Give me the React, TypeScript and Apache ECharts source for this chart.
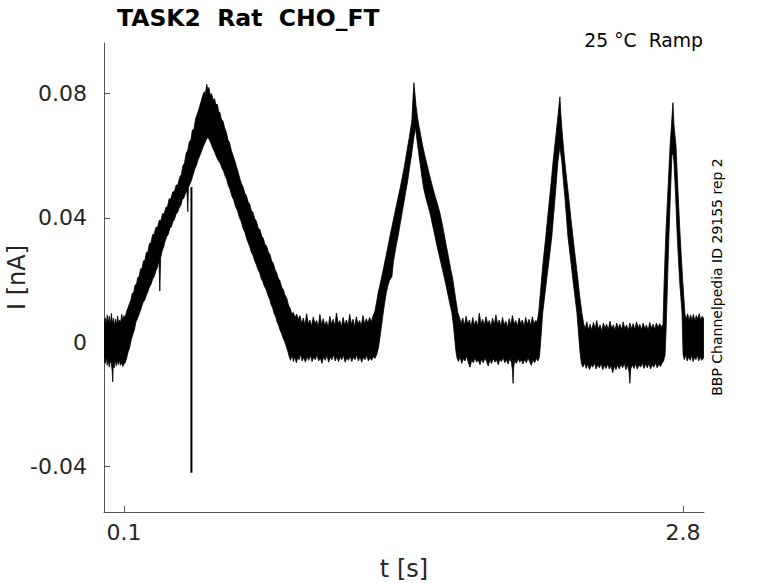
import React, { useEffect, useRef } from "react";
import * as echarts from "echarts";

const titleText = "TASK2  Rat  CHO_FT";
const conditionText = "25 °C  Ramp";
const sourceText = "BBP Channelpedia ID 29155 rep 2";
const xAxisName = "t [s]";
const yAxisName = "I [nA]";

const xTicks = [0.1, 2.8];
const xTickLabels = ["0.1", "2.8"];
const yTicks = [-0.04, 0, 0.04, 0.08];
const yTickLabels = ["-0.04", "0", "0.04", "0.08"];

const xRange = [0.0034, 2.901];
const yRange = [-0.0546, 0.0963];

// upper edge of the noisy current trace [t (s), I (nA)]
const upperEnvelope: [number, number][] = [
  [0.0040, 0.0058], [0.0090, 0.0079], [0.0140, 0.0055], [0.0190, 0.0088], [0.0240, 0.0062], [0.0290, 0.0084], [0.0340, 0.0056], [0.0390, 0.0093], [0.0440, 0.0060], [0.0490, 0.0078], [0.0540, 0.0052], [0.0590, 0.0074], [0.0640, 0.0058], [0.0690, 0.0085], [0.0740, 0.0060], [0.0790, 0.0072], [0.0840, 0.0064], [0.0890, 0.0090], [0.0940, 0.0070], [0.1000, 0.0086],
  [0.1060, 0.0082], [0.1130, 0.0100], [0.1200, 0.0112], [0.1270, 0.0126], [0.1340, 0.0138], [0.1400, 0.0158], [0.1470, 0.0160], [0.1530, 0.0184], [0.1600, 0.0186], [0.1660, 0.0208], [0.1730, 0.0212], [0.1800, 0.0236], [0.1870, 0.0238], [0.1940, 0.0262], [0.2010, 0.0264], [0.2080, 0.0290], [0.2150, 0.0290], [0.2230, 0.0318], [0.2300, 0.0320], [0.2380, 0.0346], [0.2460, 0.0348], [0.2540, 0.0370], [0.2620, 0.0370], [0.2700, 0.0392], [0.2780, 0.0392], [0.2860, 0.0414], [0.2940, 0.0414], [0.3020, 0.0434], [0.3100, 0.0436], [0.3180, 0.0462], [0.3260, 0.0460], [0.3350, 0.0484], [0.3430, 0.0484], [0.3520, 0.0506], [0.3600, 0.0506], [0.3690, 0.0532], [0.3770, 0.0540], [0.3850, 0.0570], [0.3920, 0.0576], [0.4000, 0.0608], [0.4080, 0.0618], [0.4150, 0.0644], [0.4230, 0.0652], [0.4300, 0.0682], [0.4380, 0.0688], [0.4460, 0.0720], [0.4560, 0.0738], [0.4640, 0.0756], [0.4720, 0.0774], [0.4800, 0.0794], [0.4870, 0.0806], [0.4930, 0.0800], [0.4995, 0.0830], [0.5050, 0.0812], [0.5100, 0.0820],
  [0.5160, 0.0796], [0.5230, 0.0800], [0.5300, 0.0780], [0.5370, 0.0784], [0.5440, 0.0764], [0.5510, 0.0766], [0.5570, 0.0742], [0.5630, 0.0740], [0.5700, 0.0718], [0.5780, 0.0712], [0.5860, 0.0690], [0.5940, 0.0676], [0.6020, 0.0652], [0.6100, 0.0642], [0.6180, 0.0618], [0.6270, 0.0600], [0.6350, 0.0584], [0.6430, 0.0566], [0.6510, 0.0548], [0.6590, 0.0528], [0.6670, 0.0510], [0.6750, 0.0500], [0.6830, 0.0480], [0.6910, 0.0472], [0.6990, 0.0452], [0.7070, 0.0444], [0.7150, 0.0424], [0.7230, 0.0418], [0.7310, 0.0398], [0.7390, 0.0390], [0.7480, 0.0368], [0.7570, 0.0362], [0.7650, 0.0342], [0.7730, 0.0334], [0.7810, 0.0314], [0.7890, 0.0310], [0.7970, 0.0290], [0.8050, 0.0282], [0.8130, 0.0262], [0.8210, 0.0254], [0.8290, 0.0234], [0.8370, 0.0224], [0.8450, 0.0206], [0.8530, 0.0198], [0.8610, 0.0178], [0.8690, 0.0170], [0.8770, 0.0152], [0.8860, 0.0142], [0.8940, 0.0120], [0.9020, 0.0110], [0.9100, 0.0092], [0.9180, 0.0096], [0.9260, 0.0080], [0.9340, 0.0090], [0.9420, 0.0074],
  [0.9500, 0.0086], [0.9580, 0.0060], [0.9660, 0.0078], [0.9740, 0.0055], [0.9820, 0.0092], [0.9900, 0.0058], [0.9980, 0.0072], [1.0060, 0.0052], [1.0140, 0.0082], [1.0220, 0.0060], [1.0300, 0.0070], [1.0380, 0.0050], [1.0460, 0.0090], [1.0540, 0.0056], [1.0620, 0.0076], [1.0700, 0.0054], [1.0780, 0.0068], [1.0860, 0.0048], [1.0940, 0.0084], [1.1020, 0.0058], [1.1100, 0.0074], [1.1180, 0.0052], [1.1260, 0.0094], [1.1340, 0.0060], [1.1420, 0.0070], [1.1500, 0.0050], [1.1580, 0.0080], [1.1660, 0.0056], [1.1740, 0.0072], [1.1820, 0.0054], [1.1900, 0.0090], [1.1980, 0.0058], [1.2060, 0.0074], [1.2140, 0.0050], [1.2220, 0.0082], [1.2300, 0.0060], [1.2380, 0.0070], [1.2460, 0.0052], [1.2540, 0.0086], [1.2620, 0.0058], [1.2700, 0.0076], [1.2780, 0.0062], [1.2860, 0.0080], [1.2940, 0.0066], [1.3020, 0.0084],
  [1.3110, 0.0098], [1.3200, 0.0130], [1.3280, 0.0162], [1.3360, 0.0184], [1.3450, 0.0212], [1.3550, 0.0244], [1.3650, 0.0276], [1.3740, 0.0306], [1.3840, 0.0340], [1.3940, 0.0372], [1.4040, 0.0404], [1.4130, 0.0432], [1.4230, 0.0464], [1.4330, 0.0494], [1.4420, 0.0524], [1.4540, 0.0566], [1.4660, 0.0614], [1.4780, 0.0660], [1.4900, 0.0712], [1.4960, 0.0790], [1.5000, 0.0835], [1.5050, 0.0800], [1.5100, 0.0762], [1.5180, 0.0722], [1.5250, 0.0694], [1.5340, 0.0662], [1.5430, 0.0630], [1.5530, 0.0600], [1.5640, 0.0570], [1.5740, 0.0542], [1.5840, 0.0516], [1.5940, 0.0490], [1.6040, 0.0466], [1.6140, 0.0444], [1.6250, 0.0418], [1.6350, 0.0386], [1.6450, 0.0352], [1.6560, 0.0312], [1.6660, 0.0278], [1.6770, 0.0238], [1.6880, 0.0202], [1.6960, 0.0166], [1.7040, 0.0130], [1.7120, 0.0096],
  [1.7200, 0.0080], [1.7280, 0.0060], [1.7360, 0.0078], [1.7440, 0.0054], [1.7520, 0.0084], [1.7600, 0.0058], [1.7680, 0.0072], [1.7760, 0.0050], [1.7840, 0.0080], [1.7920, 0.0056], [1.8000, 0.0070], [1.8080, 0.0052], [1.8160, 0.0094], [1.8240, 0.0058], [1.8320, 0.0074], [1.8400, 0.0054], [1.8480, 0.0082], [1.8560, 0.0060], [1.8640, 0.0070], [1.8720, 0.0050], [1.8800, 0.0078], [1.8880, 0.0056], [1.8960, 0.0088], [1.9040, 0.0058], [1.9120, 0.0072], [1.9200, 0.0052], [1.9280, 0.0080], [1.9360, 0.0056], [1.9440, 0.0068], [1.9520, 0.0048], [1.9600, 0.0076], [1.9680, 0.0056], [1.9760, 0.0086], [1.9840, 0.0058], [1.9920, 0.0070], [2.0000, 0.0052], [2.0080, 0.0078], [2.0160, 0.0060], [2.0240, 0.0072], [2.0320, 0.0050], [2.0400, 0.0080], [2.0480, 0.0058], [2.0560, 0.0074], [2.0640, 0.0054], [2.0720, 0.0082], [2.0800, 0.0060], [2.0880, 0.0070], [2.0960, 0.0066],
  [2.1030, 0.0098], [2.1110, 0.0160], [2.1200, 0.0230], [2.1290, 0.0290], [2.1370, 0.0340], [2.1460, 0.0402], [2.1550, 0.0462], [2.1640, 0.0522], [2.1720, 0.0580], [2.1800, 0.0630], [2.1880, 0.0680], [2.1970, 0.0736], [2.2050, 0.0790], [2.2100, 0.0730], [2.2160, 0.0676], [2.2230, 0.0622], [2.2290, 0.0580], [2.2390, 0.0518], [2.2490, 0.0458], [2.2580, 0.0400], [2.2680, 0.0340], [2.2790, 0.0276], [2.2900, 0.0214], [2.3000, 0.0152], [2.3110, 0.0096],
  [2.3190, 0.0062], [2.3270, 0.0044], [2.3350, 0.0066], [2.3430, 0.0040], [2.3510, 0.0058], [2.3590, 0.0038], [2.3670, 0.0064], [2.3750, 0.0044], [2.3830, 0.0070], [2.3910, 0.0042], [2.3990, 0.0056], [2.4070, 0.0036], [2.4150, 0.0062], [2.4230, 0.0046], [2.4310, 0.0058], [2.4390, 0.0040], [2.4470, 0.0068], [2.4550, 0.0044], [2.4630, 0.0056], [2.4710, 0.0038], [2.4790, 0.0062], [2.4870, 0.0046], [2.4950, 0.0058], [2.5030, 0.0040], [2.5110, 0.0066], [2.5190, 0.0042], [2.5270, 0.0056], [2.5350, 0.0038], [2.5430, 0.0062], [2.5510, 0.0044], [2.5590, 0.0060], [2.5670, 0.0040], [2.5750, 0.0066], [2.5830, 0.0046], [2.5910, 0.0058], [2.5990, 0.0040], [2.6070, 0.0062], [2.6150, 0.0044], [2.6230, 0.0056], [2.6310, 0.0038], [2.6390, 0.0064], [2.6470, 0.0046], [2.6550, 0.0058], [2.6630, 0.0042], [2.6710, 0.0062], [2.6790, 0.0048], [2.6870, 0.0060], [2.6950, 0.0050], [2.7030, 0.0058],
  [2.7080, 0.0180], [2.7130, 0.0280], [2.7170, 0.0352], [2.7270, 0.0492], [2.7370, 0.0630], [2.7440, 0.0700], [2.7510, 0.0771], [2.7560, 0.0700], [2.7610, 0.0664], [2.7660, 0.0630], [2.7750, 0.0490], [2.7850, 0.0352], [2.7970, 0.0210], [2.8090, 0.0090],
  [2.8150, 0.0074], [2.8220, 0.0092], [2.8290, 0.0070], [2.8360, 0.0088], [2.8430, 0.0072], [2.8500, 0.0090], [2.8570, 0.0068], [2.8640, 0.0086], [2.8710, 0.0074], [2.8780, 0.0092], [2.8850, 0.0070], [2.8920, 0.0084], [2.9000, 0.0076],
];

// lower edge of the noisy current trace [t (s), I (nA)]
const lowerEnvelope: [number, number][] = [
  [0.0040, -0.0050], [0.0090, -0.0068], [0.0140, -0.0046], [0.0190, -0.0074], [0.0240, -0.0054], [0.0290, -0.0080], [0.0340, -0.0058], [0.0390, -0.0070], [0.0430, -0.0092], [0.0455, -0.0127], [0.0480, -0.0074], [0.0530, -0.0082], [0.0580, -0.0056], [0.0630, -0.0076], [0.0680, -0.0060], [0.0730, -0.0072], [0.0780, -0.0058], [0.0830, -0.0074], [0.0880, -0.0064], [0.0940, -0.0078], [0.1000, -0.0070], [0.1060, -0.0066],
  [0.1130, -0.0050], [0.1200, -0.0030], [0.1270, -0.0018], [0.1340, 0.0006], [0.1420, 0.0024], [0.1500, 0.0040], [0.1580, 0.0066], [0.1660, 0.0078], [0.1760, 0.0096], [0.1840, 0.0112], [0.1920, 0.0128], [0.2000, 0.0136], [0.2070, 0.0150], [0.2150, 0.0162], [0.2230, 0.0178], [0.2300, 0.0186], [0.2380, 0.0202], [0.2460, 0.0212], [0.2540, 0.0230], [0.2620, 0.0242], [0.2690, 0.0264], [0.2730, 0.0165], [0.2770, 0.0272], [0.2840, 0.0294], [0.2910, 0.0306], [0.2990, 0.0326], [0.3060, 0.0340], [0.3140, 0.0348], [0.3210, 0.0366], [0.3290, 0.0372], [0.3360, 0.0388], [0.3440, 0.0396], [0.3510, 0.0412], [0.3590, 0.0418], [0.3660, 0.0432], [0.3740, 0.0440], [0.3810, 0.0458], [0.3890, 0.0464], [0.3960, 0.0478], [0.4040, 0.0488], [0.4080, 0.0420], [0.4110, 0.0498], [0.4190, 0.0510], [0.4270, 0.0524], [0.4340, 0.0540], [0.4420, 0.0558], [0.4500, 0.0570], [0.4580, 0.0588], [0.4660, 0.0600], [0.4750, 0.0616], [0.4830, 0.0630], [0.4910, 0.0642], [0.4990, 0.0654], [0.5050, 0.0660],
  [0.5120, 0.0652], [0.5200, 0.0640], [0.5290, 0.0624], [0.5380, 0.0612], [0.5470, 0.0596], [0.5560, 0.0584], [0.5650, 0.0576], [0.5730, 0.0560], [0.5810, 0.0550], [0.5890, 0.0534], [0.5960, 0.0524], [0.6040, 0.0504], [0.6130, 0.0490], [0.6210, 0.0470], [0.6300, 0.0458], [0.6390, 0.0436], [0.6480, 0.0424], [0.6570, 0.0402], [0.6660, 0.0388], [0.6750, 0.0366], [0.6840, 0.0354], [0.6930, 0.0332], [0.7000, 0.0320], [0.7070, 0.0308], [0.7150, 0.0290], [0.7230, 0.0280], [0.7310, 0.0262], [0.7390, 0.0250], [0.7470, 0.0234], [0.7550, 0.0224], [0.7620, 0.0206], [0.7700, 0.0196], [0.7780, 0.0180], [0.7860, 0.0170], [0.7950, 0.0152], [0.8040, 0.0138], [0.8110, 0.0120], [0.8180, 0.0110], [0.8250, 0.0092], [0.8320, 0.0084], [0.8390, 0.0066], [0.8460, 0.0056], [0.8530, 0.0040], [0.8600, 0.0030], [0.8680, 0.0014], [0.8750, 0.0004], [0.8830, -0.0012], [0.8900, -0.0026], [0.8970, -0.0044],
  [0.9040, -0.0058], [0.9110, -0.0040], [0.9180, -0.0062], [0.9250, -0.0046], [0.9320, -0.0066], [0.9390, -0.0050], [0.9460, -0.0056], [0.9530, -0.0038], [0.9600, -0.0060], [0.9680, -0.0048], [0.9760, -0.0064], [0.9840, -0.0046], [0.9920, -0.0058], [1.0000, -0.0042], [1.0080, -0.0062], [1.0160, -0.0048], [1.0240, -0.0056], [1.0320, -0.0040], [1.0400, -0.0060], [1.0480, -0.0050], [1.0560, -0.0068], [1.0640, -0.0046], [1.0720, -0.0058], [1.0800, -0.0042], [1.0880, -0.0064], [1.0960, -0.0048], [1.1040, -0.0056], [1.1120, -0.0040], [1.1200, -0.0060], [1.1280, -0.0046], [1.1360, -0.0062], [1.1440, -0.0048], [1.1520, -0.0056], [1.1600, -0.0042], [1.1680, -0.0064], [1.1760, -0.0050], [1.1840, -0.0058], [1.1920, -0.0044], [1.2000, -0.0062], [1.2080, -0.0048], [1.2160, -0.0056], [1.2240, -0.0040], [1.2320, -0.0060], [1.2400, -0.0046], [1.2480, -0.0064], [1.2560, -0.0048], [1.2640, -0.0056], [1.2720, -0.0042], [1.2800, -0.0060], [1.2880, -0.0050], [1.2960, -0.0058], [1.3040, -0.0046], [1.3120, -0.0052], [1.3200, -0.0040],
  [1.3280, -0.0020], [1.3350, 0.0010], [1.3430, 0.0050], [1.3510, 0.0090], [1.3590, 0.0128], [1.3670, 0.0160], [1.3750, 0.0184], [1.3830, 0.0200], [1.3940, 0.0212], [1.4010, 0.0260], [1.4090, 0.0290], [1.4160, 0.0316], [1.4230, 0.0340], [1.4350, 0.0386], [1.4470, 0.0432], [1.4590, 0.0478], [1.4710, 0.0524], [1.4800, 0.0566], [1.4900, 0.0610], [1.5000, 0.0660], [1.5080, 0.0690],
  [1.5150, 0.0650], [1.5230, 0.0610], [1.5310, 0.0570], [1.5390, 0.0530], [1.5470, 0.0496], [1.5580, 0.0464], [1.5680, 0.0440], [1.5770, 0.0418], [1.5860, 0.0390], [1.5950, 0.0362], [1.6040, 0.0334], [1.6130, 0.0306], [1.6220, 0.0280], [1.6310, 0.0254], [1.6400, 0.0228], [1.6490, 0.0202], [1.6580, 0.0174], [1.6660, 0.0148], [1.6750, 0.0120], [1.6830, 0.0096], [1.6900, 0.0060], [1.6960, 0.0020], [1.7020, -0.0024], [1.7080, -0.0050],
  [1.7150, -0.0062], [1.7230, -0.0046], [1.7310, -0.0068], [1.7390, -0.0052], [1.7470, -0.0060], [1.7550, -0.0044], [1.7630, -0.0066], [1.7710, -0.0080], [1.7790, -0.0058], [1.7870, -0.0066], [1.7950, -0.0050], [1.8030, -0.0064], [1.8110, -0.0056], [1.8190, -0.0072], [1.8270, -0.0054], [1.8350, -0.0066], [1.8430, -0.0050], [1.8510, -0.0062], [1.8590, -0.0076], [1.8670, -0.0056], [1.8750, -0.0068], [1.8830, -0.0052], [1.8910, -0.0064], [1.8990, -0.0056], [1.9070, -0.0072], [1.9150, -0.0054], [1.9230, -0.0062], [1.9310, -0.0048], [1.9390, -0.0066], [1.9470, -0.0056], [1.9550, -0.0070], [1.9630, -0.0052], [1.9710, -0.0064], [1.9760, -0.0090], [1.9790, -0.0132], [1.9820, -0.0080], [1.9870, -0.0058], [1.9950, -0.0068], [2.0030, -0.0052], [2.0110, -0.0064], [2.0190, -0.0056], [2.0270, -0.0070], [2.0350, -0.0054], [2.0430, -0.0066], [2.0510, -0.0050], [2.0590, -0.0062], [2.0670, -0.0074], [2.0750, -0.0056], [2.0830, -0.0066], [2.0910, -0.0052], [2.0990, -0.0060], [2.1060, -0.0048],
  [2.1130, 0.0010], [2.1220, 0.0095], [2.1330, 0.0156], [2.1440, 0.0217], [2.1550, 0.0278], [2.1660, 0.0340], [2.1760, 0.0420], [2.1860, 0.0500], [2.1950, 0.0578], [2.2050, 0.0630], [2.2150, 0.0578], [2.2220, 0.0520], [2.2300, 0.0460], [2.2370, 0.0400], [2.2440, 0.0340], [2.2550, 0.0278], [2.2650, 0.0218], [2.2760, 0.0156], [2.2870, 0.0096], [2.2950, 0.0030], [2.3020, -0.0030], [2.3090, -0.0068],
  [2.3160, -0.0080], [2.3240, -0.0066], [2.3320, -0.0084], [2.3400, -0.0070], [2.3480, -0.0088], [2.3560, -0.0072], [2.3640, -0.0080], [2.3720, -0.0066], [2.3800, -0.0086], [2.3880, -0.0072], [2.3960, -0.0082], [2.4040, -0.0068], [2.4120, -0.0088], [2.4200, -0.0074], [2.4280, -0.0084], [2.4360, -0.0070], [2.4440, -0.0086], [2.4520, -0.0074], [2.4600, -0.0098], [2.4680, -0.0076], [2.4760, -0.0088], [2.4840, -0.0072], [2.4920, -0.0086], [2.5000, -0.0070], [2.5080, -0.0082], [2.5160, -0.0068], [2.5240, -0.0088], [2.5320, -0.0074], [2.5390, -0.0094], [2.5430, -0.0132], [2.5470, -0.0086], [2.5550, -0.0072], [2.5630, -0.0084], [2.5710, -0.0068], [2.5790, -0.0086], [2.5870, -0.0072], [2.5950, -0.0080], [2.6030, -0.0066], [2.6110, -0.0084], [2.6190, -0.0070], [2.6270, -0.0082], [2.6350, -0.0068], [2.6430, -0.0086], [2.6510, -0.0072], [2.6590, -0.0080], [2.6670, -0.0066], [2.6750, -0.0082], [2.6830, -0.0070], [2.6910, -0.0078], [2.6990, -0.0066], [2.7060, -0.0060],
  [2.7130, -0.0040], [2.7180, 0.0040], [2.7250, 0.0200], [2.7320, 0.0352], [2.7390, 0.0480], [2.7460, 0.0600], [2.7520, 0.0610], [2.7560, 0.0580], [2.7640, 0.0470], [2.7710, 0.0352], [2.7830, 0.0200], [2.7950, 0.0095], [2.8000, -0.0040],
  [2.8060, -0.0056], [2.8130, -0.0040], [2.8200, -0.0060], [2.8270, -0.0046], [2.8340, -0.0058], [2.8410, -0.0042], [2.8480, -0.0062], [2.8550, -0.0048], [2.8620, -0.0056], [2.8690, -0.0040], [2.8760, -0.0060], [2.8830, -0.0046], [2.8900, -0.0058], [2.9000, -0.0050],
];

// single downward artefact spike on the first ramp
const spikeLine: [number, number][] = [
  [0.4256, 0.0500],
  [0.4256, -0.0420],
];

const FONT = '"DejaVu Sans", "Noto Sans", sans-serif';

function tickLabel(values: number[], labels: string[]) {
  return (v: number) => {
    let best = 0;
    for (let i = 1; i < values.length; i++) {
      if (Math.abs(values[i] - v) < Math.abs(values[best] - v)) best = i;
    }
    return labels[best];
  };
}

export default function App() {
  const ref = useRef<HTMLDivElement>(null);
  useEffect(() => {
    if (!ref.current) return;
    const chart = echarts.init(ref.current, undefined, { renderer: "svg" });
    const axisColor = "#555555";
    const textColor = "#262626";
    chart.setOption({
      animation: false,
      backgroundColor: "#ffffff",
      grid: { left: 104, right: 74, top: 43, bottom: 71, containLabel: false, outerBoundsMode: "none" },
      xAxis: {
        type: "value",
        min: xRange[0],
        max: xRange[1],
        name: xAxisName,
        nameLocation: "middle",
        nameGap: 45,
        nameMoveOverlap: false,
        nameTextStyle: { fontSize: 24, color: textColor, fontFamily: FONT },
        axisLine: { show: true, onZero: false, lineStyle: { color: axisColor, width: 1 } },
        axisTick: { show: true, inside: true, length: 6, customValues: xTicks, lineStyle: { color: axisColor } },
        axisLabel: {
          customValues: xTicks,
          formatter: tickLabel(xTicks, xTickLabels),
          fontSize: 22,
          color: textColor,
          fontFamily: FONT,
          margin: 9,
        },
        splitLine: { show: false },
      },
      yAxis: {
        type: "value",
        min: yRange[0],
        max: yRange[1],
        name: yAxisName,
        nameLocation: "middle",
        nameGap: 75,
        nameMoveOverlap: false,
        nameTextStyle: { fontSize: 24, color: textColor, fontFamily: FONT },
        axisLine: { show: true, onZero: false, lineStyle: { color: axisColor, width: 1 } },
        axisTick: { show: true, inside: true, length: 6, customValues: yTicks, lineStyle: { color: axisColor } },
        axisLabel: {
          customValues: yTicks,
          formatter: tickLabel(yTicks, yTickLabels),
          fontSize: 22,
          color: textColor,
          fontFamily: FONT,
          margin: 17,
        },
        splitLine: { show: false },
      },
      graphic: [
        {
          type: "text",
          x: 117,
          y: 18,
          style: { text: titleText, font: `bold 23.5px ${FONT}`, fill: "#000", align: "left", verticalAlign: "middle" },
        },
        {
          type: "text",
          x: 703,
          y: 40,
          style: { text: conditionText, font: `18.8px ${FONT}`, fill: "#000", align: "right", verticalAlign: "middle" },
        },
        {
          type: "text",
          x: 717,
          y: 277,
          rotation: Math.PI / 2,
          style: { text: sourceText, font: `14px ${FONT}`, fill: "#000", align: "center", verticalAlign: "middle" },
        },
      ],
      series: [
        {
          type: "custom",
          coordinateSystem: "cartesian2d",
          silent: true,
          clip: true,
          data: [[upperEnvelope[0][0], upperEnvelope[0][1]]],
          renderItem: (_params: any, api: any) => {
            const pts: number[][] = [];
            for (const p of upperEnvelope) pts.push(api.coord(p));
            for (let i = lowerEnvelope.length - 1; i >= 0; i--) pts.push(api.coord(lowerEnvelope[i]));
            return {
              type: "polygon",
              shape: { points: pts },
              style: { fill: "#000", stroke: "#000", lineWidth: 0.8 },
            };
          },
        },
        {
          type: "line",
          data: spikeLine,
          symbol: "none",
          silent: true,
          lineStyle: { color: "#000", width: 2 },
        },
      ],
    });
    return () => chart.dispose();
  }, []);
  return <div ref={ref} style={{ position: "fixed", left: 0, top: 0, width: 778, height: 583, background: "#fff" }} />;
}
